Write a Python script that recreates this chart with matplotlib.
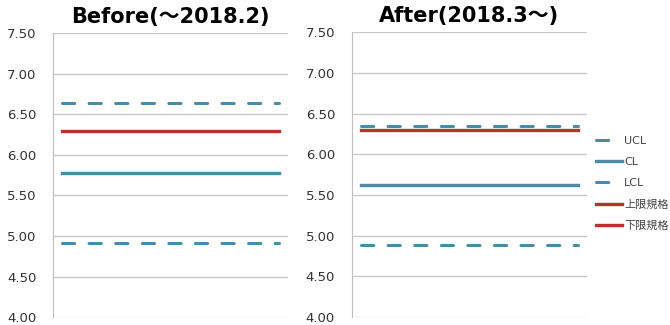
import numpy as np
import matplotlib.pyplot as plt

plt.rcParams['font.family'] = ['DejaVu Sans', 'Noto Sans CJK JP']

# control limits and spec limits for each period
n_points = 13
titles = ['Before(～2018.2)', 'After(2018.3～)']
ucl = [6.64, 6.35]
cl = [5.78, 5.62]
lcl = [4.91, 4.89]
usl = [6.30, 6.30]
lsl = [3.70, 3.70]
series_names = ['UCL', 'CL', 'LCL', '上限規格', '下限規格']

blue = '#4d8aa3'
red = '#b3352d'
yticks = [4.0, 4.5, 5.0, 5.5, 6.0, 6.5, 7.0, 7.5]

fig = plt.figure(figsize=(6.7, 3.25), dpi=100)
axes = [fig.add_axes([0.079, 0.024, 0.351, 0.874]),
        fig.add_axes([0.525, 0.024, 0.351, 0.877])]

x = np.arange(n_points)
for i, ax in enumerate(axes):
    dash = dict(color=blue, lw=2.2, dashes=(4.0, 4.7), dash_capstyle='round')
    l1, = ax.plot(x, np.full(n_points, ucl[i]), **dash)
    l2, = ax.plot(x, np.full(n_points, cl[i]), color=blue, lw=2.4)
    l3, = ax.plot(x, np.full(n_points, lcl[i]), **dash)
    l4, = ax.plot(x, np.full(n_points, usl[i]), color=red, lw=2.4)
    l5, = ax.plot(x, np.full(n_points, lsl[i]), color=red, lw=2.4)

    ax.set_xlim(-0.5, n_points - 0.5)
    ax.set_ylim(4.0, 7.5)
    ax.set_yticks(yticks)
    ax.set_yticklabels([f'{v:.2f}' for v in yticks], fontsize=9.5, color='#333333')
    ax.set_xticks([])
    ax.grid(axis='y', color='#c8c8c8', lw=1)
    ax.set_axisbelow(True)
    for s in ['top', 'right', 'bottom']:
        ax.spines[s].set_visible(False)
    ax.spines['left'].set_color('#bfbfbf')
    ax.tick_params(axis='y', length=0, pad=12)
    ax.set_title(titles[i], fontsize=15, fontweight='bold', pad=7)

fig.legend([l1, l2, l3, l4, l5], series_names, loc='upper left',
           bbox_to_anchor=(0.875, 0.612), frameon=False, fontsize=8,
           labelcolor='#444444', handlelength=2.3, handletextpad=0.2,
           labelspacing=1.0)

fig.savefig('out.png', dpi=100)
